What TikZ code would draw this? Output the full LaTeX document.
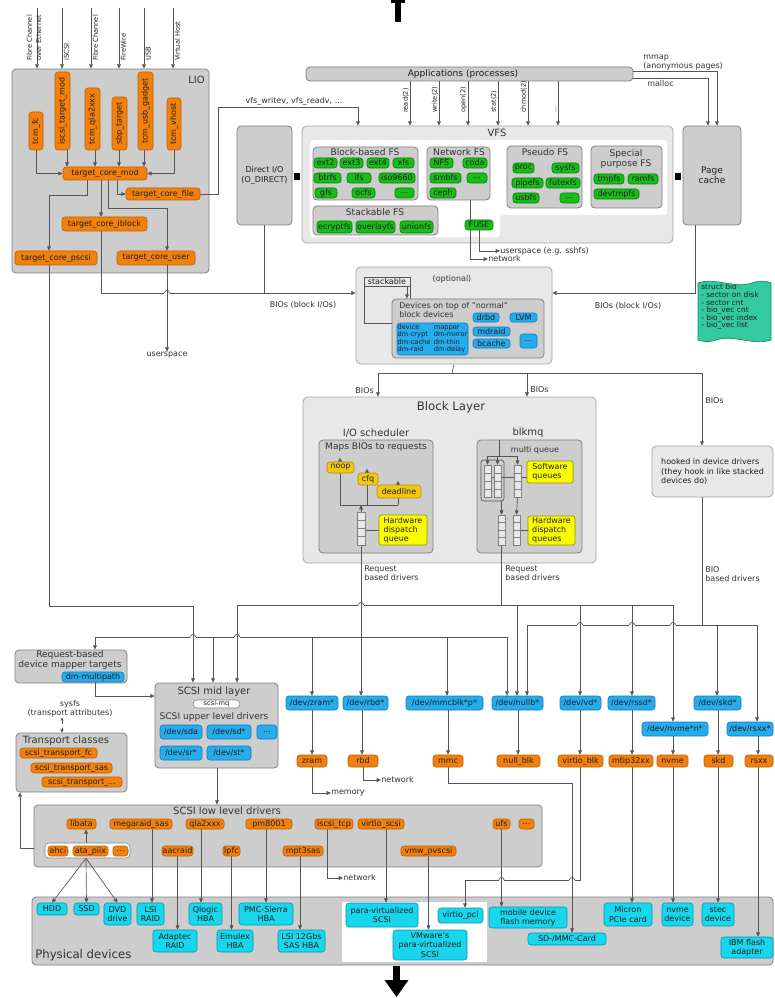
\documentclass[tikz,border=0pt]{standalone}
\usepackage{fontspec}
\setmainfont{DejaVu Sans}
\usetikzlibrary{arrows.meta,calc}
\definecolor{orgF}{RGB}{242,128,12}
\definecolor{orgD}{RGB}{190,95,0}
\definecolor{grnF}{RGB}{24,190,24}
\definecolor{grnD}{RGB}{0,125,0}
\definecolor{bluF}{RGB}{36,172,235}
\definecolor{bluD}{RGB}{20,120,190}
\definecolor{cynF}{RGB}{24,214,236}
\definecolor{cynD}{RGB}{0,150,180}
\definecolor{ylwF}{RGB}{242,200,20}
\definecolor{ylwD}{RGB}{180,140,0}
\definecolor{yhwF}{RGB}{252,252,0}
\definecolor{yhwD}{RGB}{150,150,0}
\definecolor{lgF}{RGB}{232,232,232}
\definecolor{lgD}{RGB}{165,165,165}
\definecolor{mgF}{RGB}{205,205,205}
\definecolor{mgD}{RGB}{128,128,128}
\definecolor{lnC}{RGB}{85,85,85}
\definecolor{tealF}{RGB}{52,202,158}
\definecolor{tealD}{RGB}{20,140,100}
\pgfdeclarelayer{ga}\pgfdeclarelayer{gb}\pgfdeclarelayer{gc}\pgfdeclarelayer{ed}
\pgfsetlayers{ga,gb,gc,ed,main}
\newcommand\fA{\fontsize{6}{6.9}\selectfont}
\newcommand\fB{\fontsize{6.8}{7.7}\selectfont}
\newcommand\fC{\fontsize{7.5}{8.5}\selectfont}
\newcommand\fD{\fontsize{8.8}{9.8}\selectfont}
\newcommand\fS{\fontsize{5}{5.6}\selectfont}
\newcommand\fT{\fontsize{5.6}{5.7}\selectfont}
\newcommand\Bx[7]{\node[#6,minimum width={(#4-#2)*0.75pt},minimum height={(#5-#3)*0.75pt}] (#1) at ({(#2+#4)/2},{(#3+#5)/2}) {#7};}
\newcommand\Qc[5]{\Bx{#1}{#2}{#3}{#4}{#5}{qcell}{}\foreach \kk in {1,2,3}{\draw[qline] (#2,{#3+\kk*(#5-#3)/4}) -- (#4,{#3+\kk*(#5-#3)/4});}}
\newcommand\hop[2]{\fill[white] ({#1-2.8},{#2-0.9}) rectangle ({#1+2.8},{#2+0.7}); \draw[ln] ({#1-2.6},#2) arc[start angle=180,end angle=0,radius=1.95pt]; \draw[ln] (#1,{#2-2}) -- (#1,{#2+2});}
\begin{document}
\begin{tikzpicture}[x=0.75pt,y=-0.75pt,
  every node/.style={font=\fA, inner sep=0pt, align=center, text=black!88},
  nd/.style={rounded corners=2.2pt, line width=0.45pt},
  org/.style={nd, fill=orgF, draw=orgD},
  grn/.style={nd, fill=grnF, draw=grnD},
  blu/.style={nd, fill=bluF, draw=bluD},
  cyn/.style={nd, fill=cynF, draw=cynD},
  ylw/.style={nd, fill=ylwF, draw=ylwD},
  yhw/.style={nd, fill=yhwF, draw=yhwD, rounded corners=1.2pt, align=left},
  grpL/.style={rounded corners=3.5pt, fill=lgF, draw=lgD, line width=0.6pt},
  grpM/.style={rounded corners=3pt, fill=mgF, draw=mgD, line width=0.6pt},
  qcell/.style={fill=lgF, draw=mgD, line width=0.4pt},
  qline/.style={draw=mgD, line width=0.4pt},
  ln/.style={draw=lnC, line width=0.5pt},
  arr/.style={ln, -{Triangle[length=3.2pt,width=2.8pt]}},
  lab/.style={font=\fA, text=black!80},
  ttl/.style={font=\fB, text=black!80},
  ttc/.style={font=\fC, text=black!80},
]
\useasboundingbox (0,0) rectangle (774,998);
% ---------------- outer groups
\begin{pgfonlayer}{ga}
\fill[white] (0,0) rectangle (774,998);
\Bx{lio}{12}{69}{209}{273}{grpM}{}
\Bx{vfs}{302}{126}{673}{243}{grpL}{}
\Bx{dio}{237}{126}{292}{225}{grpM}{Direct I/O\\(O\_DIRECT)}
\Bx{pc}{683}{126}{741}{225}{grpM,font=\fB}{Page\\cache}
\Bx{apps}{306}{67}{633}{81}{grpM}{}
\Bx{stk}{356}{267}{552}{364}{grpL}{}
\Bx{blk}{303}{397}{596}{563}{grpL}{}
\Bx{hooked}{652}{446}{773}{497}{grpL,align=left}{hooked in device drivers\\(they hook in like stacked\\devices do)}
\Bx{rqdm}{15}{650}{127}{683}{grpM}{}
\Bx{scsimid}{155}{683}{278}{768}{grpM}{}
\Bx{transp}{16}{733}{127}{792}{grpM}{}
\Bx{lld}{34}{805}{542}{867}{grpM}{}
\Bx{phys}{32}{897}{773}{965}{grpM}{}
\fill[tealF,draw=tealD,line width=0.5pt] (698,283) .. controls (716,277) and (734,289) .. (752,283) .. controls (760,280) and (766,281) .. (771,283) -- (771,340) .. controls (752,346) and (734,334) .. (716,340) .. controls (708,343) and (702,341) .. (698,340) -- cycle;
\end{pgfonlayer}
% ---------------- second level
\begin{pgfonlayer}{gb}
\fill[white,rounded corners=2pt] (310,140) -- (667,140) -- (667,215) -- (500,215) -- (500,237) -- (310,237) -- cycle;
\Bx{stkbox}{364}{277}{410}{323}{draw=lnC,line width=0.5pt}{}
\Bx{sched}{319}{440}{433}{553}{grpM}{}
\Bx{mq}{477}{440}{582}{553}{grpM}{}
\Bx{ahcigrp}{45}{843}{130}{858}{fill=white,draw=mgD,rounded corners=3pt,line width=0.4pt}{}
\fill[white] (342,902) rectangle (487,962);
\end{pgfonlayer}
\begin{pgfonlayer}{gc}
\Bx{gbfs}{313}{147}{418}{200}{grpM}{}
\Bx{gnfs}{427}{147}{490}{200}{grpM}{}
\Bx{gsfs}{313}{206}{438}{235}{grpM}{}
\Bx{gpfs}{507}{146}{582}{208}{grpM}{}
\Bx{gspfs}{591}{146}{662}{208}{grpM}{}
\Bx{devtop}{392}{299}{544}{358}{grpM}{}
\end{pgfonlayer}
% ---------------- LIO
\node[ttc,anchor=east] (tlio) at (205,80) {LIO};
\Bx{tcmfc}{29}{112}{43}{150}{org}{\rotatebox{90}{tcm\_fc}}
\Bx{iscsit}{55}{72}{70}{150}{org}{\rotatebox{90}{iscsi\_target\_mod}}
\Bx{tcmqla}{85}{88}{100}{150}{org}{\rotatebox{90}{tcm\_qla2xxx}}
\Bx{sbpt}{112}{97}{127}{150}{org}{\rotatebox{90}{sbp\_target}}
\Bx{usbg}{138}{72}{153}{150}{org}{\rotatebox{90}{tcm\_usb\_gadget}}
\Bx{vhost}{167}{98}{181}{150}{org}{\rotatebox{90}{tcm\_vhost}}
\Bx{tmod}{63}{167}{147}{180}{org}{target\_core\_mod}
\Bx{tfile}{126}{188}{200}{200}{org}{target\_core\_file}
\Bx{tiblk}{62}{217}{147}{231}{org}{target\_core\_iblock}
\Bx{tpscsi}{15}{251}{97}{265}{org}{target\_core\_pscsi}
\Bx{tuser}{117}{251}{195}{265}{org}{target\_core\_user}
\node[anchor=south,font=\fS] (lfcoe) at (34,61) {\rotatebox{90}{\shortstack[l]{Fibre Channel\\over Ethernet}}};
\node[anchor=south west,font=\fS] (liscsi) at (63.5,61) {\rotatebox{90}{iSCSI}};
\node[anchor=south west,font=\fS] (lfc) at (92.5,61) {\rotatebox{90}{Fibre Channel}};
\node[anchor=south west,font=\fS] (lfw) at (120.5,61) {\rotatebox{90}{FireWire}};
\node[anchor=south west,font=\fS] (lusb) at (145.5,61) {\rotatebox{90}{USB}};
\node[anchor=south west,font=\fS] (lvh) at (174.5,61) {\rotatebox{90}{Virtual Host}};
\foreach \i/\xx in {1/37,2/62,3/91,4/119,5/144,6/173}{\coordinate (in\i) at (\xx,8);}
\node[lab] (uspc) at (167,355) {userspace};
% ---------------- top
\node[font=\fB] (tapps) at (463,74) {Applications (processes)};
\node[lab,anchor=west] (lmmap) at (643,58) {mmap};
\node[lab,anchor=west] (lanon) at (643,66) {(anonymous pages)};
\node[lab,anchor=west] (lmalloc) at (647,84) {malloc};
\node[lab] (lvfsw) at (294,101) {vfs\_writev, vfs\_readv, ...};
\Bx{sq1}{294}{173}{300}{180}{fill=black}{}
\Bx{sq2}{675}{173}{681}{180}{fill=black}{}
% ---------------- VFS
\node[ttc] (tvfs) at (497,133) {VFS};
\node[ttl] (tbfs) at (365,152) {Block-based FS};
\node[ttl] (tnfs) at (459,152) {Network FS};
\node[ttl] (tsfs) at (375,212) {Stackable FS};
\node[ttl] (tpfs) at (545,152) {Pseudo FS};
\node[ttl] (tspfs) at (626,159) {Special\\purpose FS};
\Bx{ext2}{314}{158}{337}{168}{grn}{ext2}
\Bx{ext3}{340}{158}{363}{168}{grn}{ext3}
\Bx{ext4}{367}{158}{389}{168}{grn}{ext4}
\Bx{xfs}{393}{158}{414}{168}{grn}{xfs}
\Bx{btrfs}{314}{173}{341}{183}{grn}{btrfs}
\Bx{ifs}{347}{173}{371}{183}{grn}{ifs}
\Bx{iso}{379}{173}{415}{183}{grn}{iso9660}
\Bx{gfs}{315}{188}{337}{198}{grn}{gfs}
\Bx{ocfs}{352}{188}{375}{198}{grn}{ocfs}
\Bx{bfsd}{395}{188}{414}{198}{grn}{...}
\Bx{nfs}{430}{158}{453}{168}{grn}{NFS}
\Bx{coda}{463}{158}{487}{168}{grn}{coda}
\Bx{smbfs}{430}{173}{461}{183}{grn}{smbfs}
\Bx{nfsd}{467}{173}{487}{183}{grn}{...}
\Bx{ceph}{430}{188}{456}{198}{grn}{ceph}
\Bx{ecryptfs}{317}{221}{352}{233}{grn}{ecryptfs}
\Bx{overlayfs}{356}{221}{395}{233}{grn}{overlayfs}
\Bx{unionfs}{400}{221}{433}{233}{grn}{unionfs}
\Bx{fuse}{465}{220}{493}{230}{grn}{FUSE}
\Bx{proc}{513}{163}{534}{173}{grn}{proc}
\Bx{sysfsn}{552}{163}{579}{173}{grn}{sysfs}
\Bx{pipefs}{512}{178}{543}{188}{grn}{pipefs}
\Bx{futexfs}{546}{178}{580}{188}{grn}{futexfs}
\Bx{usbfs}{513}{193}{539}{203}{grn}{usbfs}
\Bx{pfsd}{560}{193}{579}{203}{grn}{...}
\Bx{tmpfs}{594}{174}{624}{184}{grn}{tmpfs}
\Bx{ramfs}{628}{174}{658}{184}{grn}{ramfs}
\Bx{devtmpfs}{594}{189}{639}{199}{grn}{devtmpfs}
\node[lab,anchor=west] (uspfuse) at (500,251) {userspace (e.g. sshfs)};
\node[lab,anchor=west] (netvfs) at (488,259) {network};
\node[lab] (lbio1) at (303,305) {BIOs (block I/Os)};
\node[lab] (lbio2) at (628,306) {BIOs (block I/Os)};
\node[anchor=north west,align=left,font=\fT] (bio) at (701,284) {struct bio\\- sector on disk\\- sector cnt\\- bio\_vec cnt\\- bio\_vec index\\- bio\_vec list};
% ---------------- stackable
\node[lab] (topt) at (452,279) {(optional)};
\Bx{stklbl}{364}{277}{410}{286}{draw=lnC,fill=lgF,line width=0.5pt}{stackable}
\node[lab,align=left,anchor=north west] (tdevtop) at (399,302) {Devices on top of "normal"\\block devices};
\Bx{drbd}{473}{313}{499}{322}{blu}{drbd}
\Bx{lvm}{510}{313}{537}{322}{blu}{LVM}
\Bx{mdraid}{473}{327}{510}{336}{blu}{mdraid}
\Bx{bcache}{473}{339}{510}{348}{blu}{bcache}
\Bx{stkd}{520}{334}{537}{348}{blu}{...}
\Bx{dm}{397}{323}{468}{355}{blu}{\fS\begin{tabular}{@{}l@{\hspace{2.5pt}}l@{}}device & mapper\\dm-crypt & dm-mirror\\dm-cache & dm-thin\\dm-raid & dm-delay\end{tabular}}
\node[lab,anchor=east] (lbios1) at (374,391) {BIOs};
\node[lab,anchor=west] (lbios2) at (530,390) {BIOs};
\node[lab,anchor=west] (lbios3) at (705,401) {BIOs};
% ---------------- block layer
\node[font=\fD,text=black!80] (tblk) at (451,407) {Block Layer};
\node[ttc] (tsched) at (376,433) {I/O scheduler};
\node[ttl] (tmaps) at (376,447) {Maps BIOs to requests};
\node[ttc] (tmq) at (528,433) {blkmq};
\node[lab] (tmulti) at (535,450) {multi queue};
\Bx{noop}{327}{462}{354}{473}{ylw}{noop}
\Bx{cfq}{358}{473}{378}{485}{ylw}{cfq}
\Bx{deadline}{377}{485}{421}{498}{ylw}{deadline}
\Bx{hwq}{379}{515}{427}{545}{yhw}{Hardware\\dispatch\\queue}
\Bx{swq}{527}{461}{573}{483}{yhw}{Software\\queues}
\Bx{hwqm}{528}{516}{575}{545}{yhw}{Hardware\\dispatch\\queues}
\Qc{ioq}{357}{512}{365}{545}
\Qc{swa}{484}{465}{491}{497}
\Qc{swb}{494}{465}{501}{497}
\Qc{swc}{514}{465}{521}{497}
\Qc{hwa}{498}{515}{505}{545}
\Qc{hwb}{513}{515}{520}{545}
\node[lab,align=left,anchor=north west] (lrq1) at (364,565) {Request\\based drivers};
\node[lab,align=left,anchor=north west] (lrq2) at (505,565) {Request\\based drivers};
\node[lab,align=left,anchor=north west] (lbio3) at (705,566) {BIO\\based drivers};
% ---------------- lower left
\node[ttl] (trqdm) at (70,660) {Request-based\\device mapper targets};
\Bx{dmmp}{62}{672}{124}{682}{blu}{dm-multipath}
\node[ttc] (tscsimid) at (214,692) {SCSI mid layer};
\Bx{scsimq}{193}{700}{240}{708}{fill=white,draw=mgD,rounded corners=3pt,line width=0.4pt}{\fS scsi-mq}
\node[ttl] (tupper) at (214,717) {SCSI upper level drivers};
\Bx{sda}{160}{725}{202}{739}{blu}{/dev/sda}
\Bx{sdx}{207}{725}{251}{739}{blu}{/dev/sd*}
\Bx{sdd}{257}{725}{277}{739}{blu}{...}
\Bx{sr}{160}{746}{202}{760}{blu}{/dev/sr*}
\Bx{st}{207}{746}{251}{760}{blu}{/dev/st*}
\node[lab] (sysfs) at (70,708.5) {sysfs\\(transport attributes)};
\node[ttc] (ttransp) at (66,741) {Transport classes};
\Bx{stfc}{20}{748}{97}{758}{org}{scsi\_transport\_fc}
\Bx{stsas}{31}{763}{112}{773}{org}{scsi\_transport\_sas}
\Bx{stx}{42}{777}{122}{787}{org}{scsi\_transport\_...}
% ---------------- device nodes and drivers
\Bx{zramdev}{286}{696}{338}{710}{blu}{/dev/zram*}
\Bx{rbddev}{343}{696}{388}{710}{blu}{/dev/rbd*}
\Bx{mmcdev}{406}{696}{483}{710}{blu}{/dev/mmcblk*p*}
\Bx{nullbdev}{492}{696}{543}{710}{blu}{/dev/nullb*}
\Bx{vddev}{560}{696}{601}{710}{blu}{/dev/vd*}
\Bx{rssddev}{608}{696}{655}{710}{blu}{/dev/rssd*}
\Bx{nvmedev}{642}{722}{708}{736}{blu}{/dev/nvme*n*}
\Bx{skddev}{694}{696}{741}{710}{blu}{/dev/skd*}
\Bx{rsxxdev}{727}{722}{773}{736}{blu}{/dev/rsxx*}
\Bx{zram}{297}{755}{327}{767}{org}{zram}
\Bx{rbd}{348}{755}{378}{767}{org}{rbd}
\Bx{mmc}{433}{755}{463}{767}{org}{mmc}
\Bx{nullblk}{497}{755}{540}{767}{org}{null\_blk}
\Bx{virtioblk}{558}{755}{603}{767}{org}{virtio\_blk}
\Bx{mtip}{609}{755}{653}{767}{org}{mtip32xx}
\Bx{nvme}{657}{755}{688}{767}{org}{nvme}
\Bx{skd}{704}{755}{733}{767}{org}{skd}
\Bx{rsxx}{745}{755}{773}{767}{org}{rsxx}
\node[lab,anchor=west] (memlbl) at (331,793) {memory};
\node[lab,anchor=west] (net2) at (381,780) {network};
% ---------------- SCSI low level
\node[ttc] (tlld) at (227,811) {SCSI low level drivers};
\Bx{libata}{67}{819}{96}{829}{org}{libata}
\Bx{megaraid}{110}{819}{172}{829}{org}{megaraid\_sas}
\Bx{qla}{186}{819}{224}{829}{org}{qla2xxx}
\Bx{pm}{246}{819}{292}{829}{org}{pm8001}
\Bx{iscsitcp}{315}{819}{353}{829}{org}{iscsi\_tcp}
\Bx{virtioscsi}{358}{819}{404}{829}{org}{virtio\_scsi}
\Bx{ufs}{493}{819}{510}{829}{org}{ufs}
\Bx{llddots}{519}{819}{534}{829}{org}{...}
\Bx{ahci}{48}{846}{68}{856}{org}{ahci}
\Bx{atapiix}{73}{846}{108}{856}{org}{ata\_piix}
\Bx{ahcidots}{113}{846}{128}{856}{org}{...}
\Bx{aacraid}{162}{846}{193}{856}{org}{aacraid}
\Bx{lpfc}{223}{846}{240}{856}{org}{lpfc}
\Bx{mpt}{283}{846}{323}{856}{org}{mpt3sas}
\Bx{vmwpv}{401}{846}{456}{856}{org}{vmw\_pvscsi}
\node[lab,anchor=west] (net3) at (343,878) {network};
% ---------------- physical devices
\node[font=\fD,text=black!80,anchor=west] (tphys) at (35,955) {Physical devices};
\Bx{hdd}{37}{903}{67}{915}{cyn}{HDD}
\Bx{ssd}{74}{903}{99}{915}{cyn}{SSD}
\Bx{dvd}{104}{903}{131}{925}{cyn}{DVD\\drive}
\Bx{lsiraid}{137}{903}{164}{925}{cyn}{LSI\\RAID}
\Bx{adaptec}{153}{930}{197}{952}{cyn}{Adaptec\\RAID}
\Bx{qlogic}{189}{903}{222}{925}{cyn}{Qlogic\\HBA}
\Bx{emulex}{217}{930}{253}{952}{cyn}{Emulex\\HBA}
\Bx{pmc}{239}{903}{293}{925}{cyn}{PMC-Sierra\\HBA}
\Bx{lsi12}{278}{930}{325}{952}{cyn}{LSI 12Gbs\\SAS HBA}
\Bx{pvscsi}{346}{903}{418}{927}{cyn}{para-virtualized\\SCSI}
\Bx{vmware}{393}{930}{467}{960}{cyn}{VMware's\\para-virtualized\\SCSI}
\Bx{virtiopci}{438}{908}{483}{923}{cyn}{virtio\_pci}
\Bx{mobile}{489}{907}{567}{928}{cyn}{mobile device\\flash memory}
\Bx{sdmmc}{528}{933}{606}{945}{cyn}{SD-/MMC-Card}
\Bx{micron}{604}{903}{652}{926}{cyn}{Micron\\PCIe card}
\Bx{nvmed}{662}{903}{693}{926}{cyn}{nvme\\device}
\Bx{stec}{702}{903}{734}{926}{cyn}{stec\\device}
\Bx{ibm}{721}{937}{773}{958}{cyn}{IBM flash\\adapter}
% ---------------- black arrow parts
\fill[black] (391,0) rectangle (405,3.5);
\fill[black] (395,0) rectangle (401,22);
\fill[black] (393,966) rectangle (400,981);
\fill[black] (384.5,980) -- (408.5,980) -- (396.5,997) -- cycle;
% ================= connectors
\begin{pgfonlayer}{ed}
\foreach \i in {1,...,6}{\draw[arr] (in\i) -- (in\i |- lio.north);}
\draw[arr] (tcmfc.south) |- (tmod.west);
\draw[arr] (iscsit.south -| 67,0) -- (tmod.north -| 67,0);
\draw[arr] (tcmqla.south -| 95,0) -- (tmod.north -| 95,0);
\draw[arr] (sbpt.south -| 119,0) -- (tmod.north -| 119,0);
\draw[arr] (usbg.south -| 144,0) -- (tmod.north -| 144,0);
\draw[arr] (vhost.south) |- (tmod.east);
\draw[arr] (tmod.south -| 87,0) |- (49,195) -- (tpscsi.north -| 49,0);
\draw[arr] (tmod.south -| 101,0) -- (tiblk.north -| 101,0);
\draw[arr] (tmod.south -| 108,0) |- (167,208) -- (tuser.north -| 167,0);
\draw[arr] (tmod.south -| 117,0) |- (tfile.west);
\draw[arr] (tfile.east) -| (218,107) -| (vfs.north -| 358,0);
\draw[arr] (tpscsi.south -| 49,0) |- (193,606) -- (scsimid.north -| 193,0);
\draw[arr] (tiblk.south -| 101,0) |- (stk.west |- 0,293);
\draw[ln] (dio.south) -- (dio.south |- 0,293);
\draw[arr] (tuser.south -| 167,0) -- (uspc.north);
\draw[arr] (pc.south -| 695,0) |- (stk.east |- 0,293);
\foreach \xx/\sysn in {410/read(2),439/write(2),468/open(2),498/stat(2),528/chmod(2)}{
  \draw[arr] (apps.south -| \xx,0) -- (vfs.north -| \xx,0);
  \node[anchor=south east,font=\fS] at ({\xx-1},113) {\rotatebox{90}{\sysn}};
}
\draw[arr] (apps.south -| 558,0) -- (vfs.north -| 558,0);
\node[anchor=south east,font=\fS] (ldots) at (557,113) {\rotatebox{90}{...}};
\draw[arr] (apps.east |- 0,71) -| (pc.north -| 717,0);
\draw[arr] (apps.east |- 0,78) -| (pc.north -| 708,0);
\draw[arr] (fuse.south -| 479,0) |- (uspfuse.west);
\draw[arr] (gnfs.south -| 470,0) |- (netvfs.west);
% stackable
\draw[arr] (stklbl.south -| 407,0) -- (devtop.north -| 407,0);
\coordinate (stkj) at (452,373);
\draw[ln] (stk.south) -- (stkj);
\draw[arr] (stkj) -| (blk.north -| 378,0);
\draw[arr] (stkj) -| (hooked.north -| 702,0);
\draw[arr] (stkj -| 527,0) -- (blk.north -| 527,0);
% scheduler
\draw[ln] (340,505) -- (398,505);
\draw[arr] (340,505) -- ($(noop.north -| 340,0)+(0,-4)$);
\draw[arr] (367,505) -- ($(cfq.north -| 367,0)+(0,-4)$);
\draw[arr] (398,505) -- ($(deadline.north -| 398,0)+(0,-4)$);
\draw[arr] (ioq.north) -- (ioq.north |- 0,505);
\draw[ln] (ioq.east |- hwq.west) -- (hwq.west);
% blkmq
\draw[ln] (mq.north -| 499,0) -- (499,456);
\draw[ln] (487.5,456) -- (517.5,456);
\draw[arr] (487.5,456) -- (swa.north);
\draw[arr] (497.5,456) -- (swb.north);
\draw[arr] (517.5,456) -- (swc.north);
\draw[ln,rounded corners=2pt] (481,460) rectangle (504,501);
\draw[ln] (swa.east |- 0,477) -- (swq.west |- 0,477);
\draw[arr] (501.5,501) -- (hwa.north);
\draw[arr] (swc.south) -- (hwb.north);
\draw[ln] (hwb.east |- hwqm.west) -- (hwqm.west);
% outputs of block layer
\draw[arr] (ioq.south) -- (rbddev.north -| ioq.south);
\draw[ln] (hwa.south) -- (hwa.south |- 0,605);
\draw[ln] (hooked.south -| 702,0) -- (702,625);
% bus L3
\draw[ln] (95,637) -- (507,637);
\draw[arr] (95,637) -- (rqdm.north -| 95,0);
\draw[arr] (213,637) -- (scsimid.north -| 213,0);
\draw[arr] (312,637) -- (zramdev.north -| 312,0);
\draw[arr] (447,637) -- (mmcdev.north -| 447,0);
\draw[arr] (507,637) -- (nullbdev.north -| 507,0);
% bus L1
\draw[ln] (237,605) -- (673,605);
\draw[arr] (237,605) -- (scsimid.north -| 237,0);
\draw[arr] (517,605) -- (nullbdev.north -| 517,0);
\draw[arr] (580,605) -- (vddev.north -| 580,0);
\draw[arr] (632,605) -- (rssddev.north -| 632,0);
\draw[arr] (673,605) -- (nvmedev.north -| 673,0);
% bus L2
\draw[ln] (527,625) -- (757,625);
\draw[arr] (527,625) -- (nullbdev.north -| 527,0);
\draw[arr] (717,625) -- (skddev.north -| 717,0);
\draw[arr] (757,625) -- (rsxxdev.north -| 757,0);
% scsi
\draw[arr] (dmmp.south -| 95,0) |- (scsimid.west |- 0,696);
\draw[arr] (scsimid.south -| 217,0) -- (lld.north -| 217,0);
\draw[arr] (lld.west |- 0,848) -| (transp.south -| 20,0);
\draw[ln,dashed,{Triangle[length=2.4pt,width=2.2pt]}-{Triangle[length=2.4pt,width=2.2pt]}] (sysfs.south -| 62,0) -- (transp.north -| 62,0);
\draw[arr] (ahcigrp.north -| 86,0) -- (libata.south -| 86,0);
\draw[arr] (ahcigrp.south -| 86,0) -- (hdd.north);
\draw[arr] (ahcigrp.south -| 86,0) -- (ssd.north);
\draw[arr] (ahcigrp.south -| 86,0) -- (dvd.north);
\draw[arr] (megaraid.south -| 152,0) -- (lsiraid.north -| 152,0);
\draw[arr] (aacraid.south) -- (adaptec.north -| aacraid.south);
\draw[arr] (qla.south -| 201,0) -- (qlogic.north -| 201,0);
\draw[arr] (lpfc.south) -- (emulex.north -| lpfc.south);
\draw[arr] (pm.south -| 266,0) -- (pmc.north -| 266,0);
\draw[arr] (mpt.south -| 300,0) -- (lsi12.north -| 300,0);
\draw[arr] (iscsitcp.south -| 327,0) |- (net3.west);
\draw[arr] (virtioscsi.south -| 386,0) -- (pvscsi.north -| 386,0);
\draw[arr] (vmwpv.south) -- (vmware.north -| vmwpv.south);
\draw[arr] (ufs.south) -- (mobile.north -| ufs.south);
% dev to drivers
\draw[arr] (zramdev.south -| 312,0) -- (zram.north -| 312,0);
\draw[arr] (rbddev.south -| 362,0) -- (rbd.north -| 362,0);
\draw[arr] (mmcdev.south -| 448,0) -- (mmc.north -| 448,0);
\draw[arr] (nullbdev.south -| 518,0) -- (nullblk.north -| 518,0);
\draw[arr] (vddev.south -| 580,0) -- (virtioblk.north -| 580,0);
\draw[arr] (rssddev.south -| 632,0) -- (mtip.north -| 632,0);
\draw[arr] (nvmedev.south -| 673,0) -- (nvme.north -| 673,0);
\draw[arr] (skddev.south -| 718,0) -- (skd.north -| 718,0);
\draw[arr] (rsxxdev.south -| 758,0) -- (rsxx.north -| 758,0);
% drivers to devices
\draw[arr] (zram.south) |- (memlbl.west);
\draw[arr] (rbd.south) |- (net2.west);
\draw[arr] (mmc.south) |- (572,783) -- (sdmmc.north -| 572,0);
\draw[arr] (virtioblk.south) |- (465,880) -- (virtiopci.north -| 465,0);
\draw[arr] (mtip.south -| 632,0) -- (micron.north -| 632,0);
\draw[arr] (nvme.south -| 673,0) -- (nvmed.north -| 673,0);
\draw[arr] (skd.south -| 718,0) -- (stec.north -| 718,0);
\draw[arr] (rsxx.south -| 758,0) -- (ibm.north -| 758,0);
% hops
\hop{167}{293}
\hop{193}{637}
\hop{237}{637}
\hop{361}{605}
\hop{580}{625}
\hop{632}{625}
\hop{673}{625}
\hop{572}{880}
\hop{501.5}{880}
\end{pgfonlayer}
\end{tikzpicture}
\end{document}
